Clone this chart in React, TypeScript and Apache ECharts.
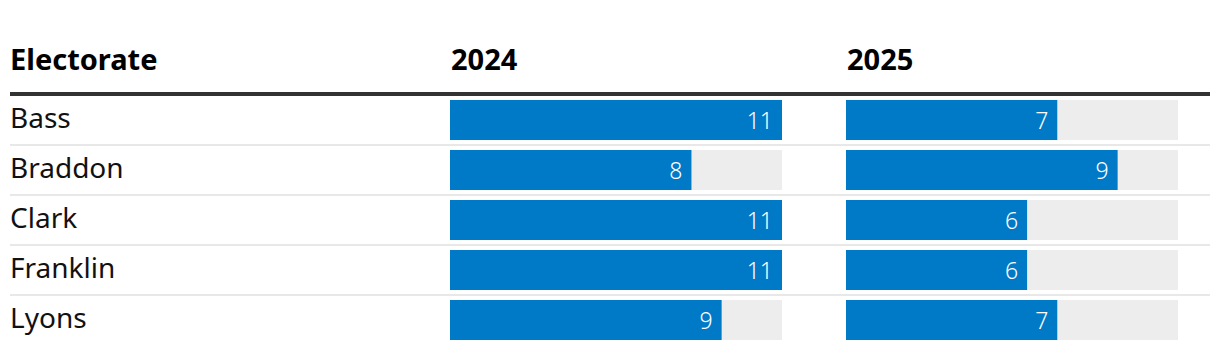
import React, { useEffect, useRef } from "react";
import * as echarts from "echarts";

const electorates = ["Bass", "Braddon", "Clark", "Franklin", "Lyons"];
const values2024 = [11, 8, 11, 11, 9];
const values2025 = [7, 9, 6, 6, 7];
const columnHeaders = ["Electorate", "2024", "2025"];
const maxValue = 11;

const BLUE = "#0079C7";
const GREY = "#EDEDED";
const FONT = "'Noto Sans', sans-serif";

export default function App() {
  const ref = useRef<HTMLDivElement>(null);
  useEffect(() => {
    if (!ref.current) return;
    const chart = echarts.init(ref.current, null, { renderer: "svg" });
    const top = 95;
    const rowH = 50;
    const gridH = rowH * electorates.length;
    const grids = [
      { left: 450, top, width: 332, height: gridH },
      { left: 846, top, width: 332, height: gridH },
    ];
    const mkSeries = (idx: number, data: number[]) => ({
      type: "bar",
      xAxisIndex: idx,
      yAxisIndex: idx,
      data,
      barWidth: 40,
      showBackground: true,
      backgroundStyle: { color: GREY },
      itemStyle: { color: BLUE },
      label: {
        show: true,
        position: "insideRight",
        distance: 9,
        color: "#fff",
        fontSize: 23,
        fontFamily: FONT,
        fontWeight: 300,
      },
    });
    const separators = [];
    for (let i = 1; i < electorates.length; i++) {
      const y = top + i * rowH;
      separators.push({
        type: "line",
        shape: { x1: 10, y1: y, x2: 1210, y2: y },
        style: { stroke: "#E8E8E8", lineWidth: 2 },
        z: -1,
      });
    }
    chart.setOption({
      animation: false,
      grid: grids,
      xAxis: grids.map((_, i) => ({
        type: "value",
        gridIndex: i,
        min: 0,
        max: maxValue,
        show: false,
      })),
      yAxis: grids.map((_, i) => ({
        type: "category",
        gridIndex: i,
        data: electorates,
        inverse: true,
        axisLine: { show: false },
        axisTick: { show: false },
        splitLine: { show: false },
        axisLabel: {
          show: i === 0,
          align: "left",
          verticalAlign: "bottom",
          lineHeight: 6,
          margin: 440,
          color: "#111",
          fontSize: 28,
          fontFamily: FONT,
        },
      })),
      series: [mkSeries(0, values2024), mkSeries(1, values2025)],
      graphic: [
        ...separators,
        {
          type: "line",
          shape: { x1: 10, y1: 94, x2: 1210, y2: 94 },
          style: { stroke: "#333", lineWidth: 4 },
        },
        ...columnHeaders.map((t, i) => ({
          type: "text",
          x: [10, 451, 847][i],
          y: 58,
          style: {
            text: t,
            fill: "#000",
            font: `bold 29px ${FONT}`,
            verticalAlign: "middle",
          },
        })),
      ],
    });
    return () => chart.dispose();
  }, []);
  return (
    <div
      ref={ref}
      style={{ position: "absolute", left: 0, top: 0, width: 1220, height: 354 }}
    />
  );
}
